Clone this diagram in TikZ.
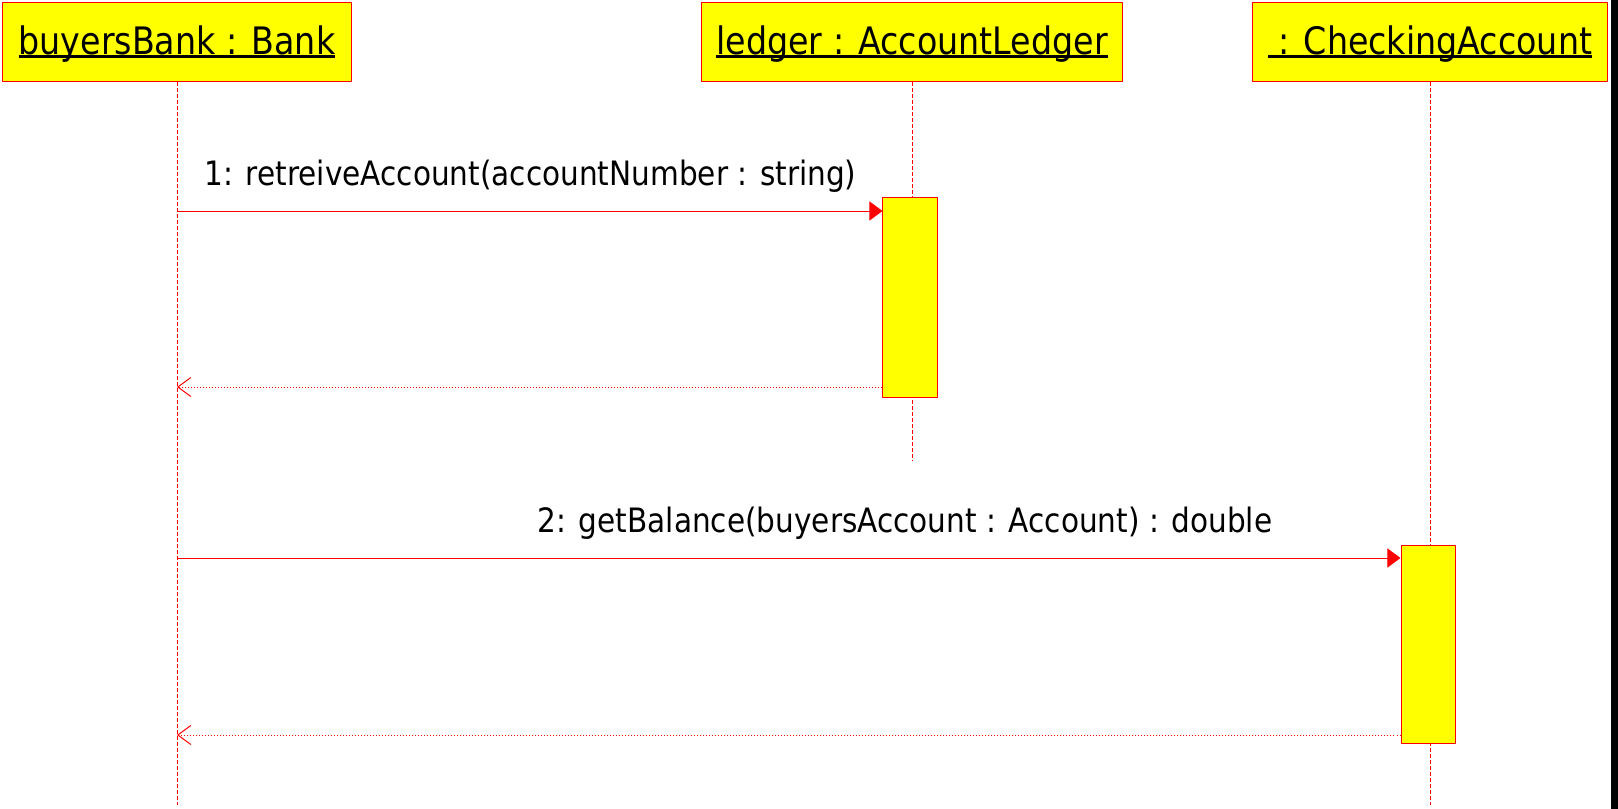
\documentclass[tikz,border=0pt]{standalone}
\usepackage{fontspec}
\setmainfont{DejaVu Sans}[FakeStretch=0.88]
\usetikzlibrary{arrows.meta}
\definecolor{umlred}{RGB}{255,0,0}
\definecolor{umlyellow}{RGB}{255,255,0}
\newcommand{\objname}[1]{\setbox0\hbox{#1}\rlap{\rule[-0.09em]{\wd0}{0.075em}}\box0}
\begin{document}
\begin{tikzpicture}[x=0.01cm, y=-0.01cm, line join=round,
	obj/.style={draw=umlred, fill=umlyellow, line width=0.01cm, minimum height=0.78cm, inner sep=0pt, text height=0.73em, text depth=0pt, font=\fontsize{10.76pt}{13pt}\selectfont},
	act/.style={draw=umlred, fill=umlyellow, line width=0.01cm, minimum width=0.54cm, inner sep=0pt},
	life/.style={draw=umlred, line width=0.01cm, dash pattern=on 0.04cm off 0.02cm},
	call/.style={draw=umlred, line width=0.01cm, -{Triangle[length=0.13cm, width=0.19cm]}},
	reply/.style={draw=umlred, line width=0.01cm, dash pattern=on 0.01cm off 0.02cm, -{Straight Barb[length=0.13cm, width=0.19cm]}},
	msg/.style={anchor=base west, inner sep=0pt, font=\fontsize{9.55pt}{12pt}\selectfont}]
		\useasboundingbox (0,0) rectangle (1618,809);
		\fill (1611,0) rectangle (1618,809);
		\node[obj, minimum width=3.48cm] (bank) at (177,42) {\objname{buyersBank : Bank}};
		\node[obj, minimum width=4.20cm] (ledger) at (912,42) {\objname{ledger : AccountLedger}};
		\node[obj, minimum width=3.54cm] (check) at (1430,42) {\objname{\ : CheckingAccount}};
		\coordinate (bankend) at (177,805);
		\coordinate (ledgerend) at (912,460);
		\coordinate (checkend) at (1430,805);
		\draw[life] (bank) -- (bankend);
		\draw[life] (ledger) -- (ledgerend);
		\draw[life] (check) -- (checkend);
		\node[act, minimum height=1.99cm] (act1) at (910,297.5) {};
		\node[act, minimum height=1.98cm] (act2) at (1428,545) [anchor=north] {};
		\coordinate (m1) at (177,211);
		\coordinate (r1) at (177,387);
		\coordinate (m2) at (177,558);
		\coordinate (r2) at (177,735);
		\draw[call] (m1) -- (m1 -| act1.west);
		\draw[reply] (r1 -| act1.west) -- (r1);
		\draw[call] (m2) -- (m2 -| act2.west);
		\draw[reply] (r2 -| act2.west) -- (r2);
		\node[msg] (lbl1) at (204,185) {1: retreiveAccount(accountNumber : string)};
		\node[msg] (lbl2) at (537,532) {2: getBalance(buyersAccount : Account) : double};
\end{tikzpicture}
\end{document}
